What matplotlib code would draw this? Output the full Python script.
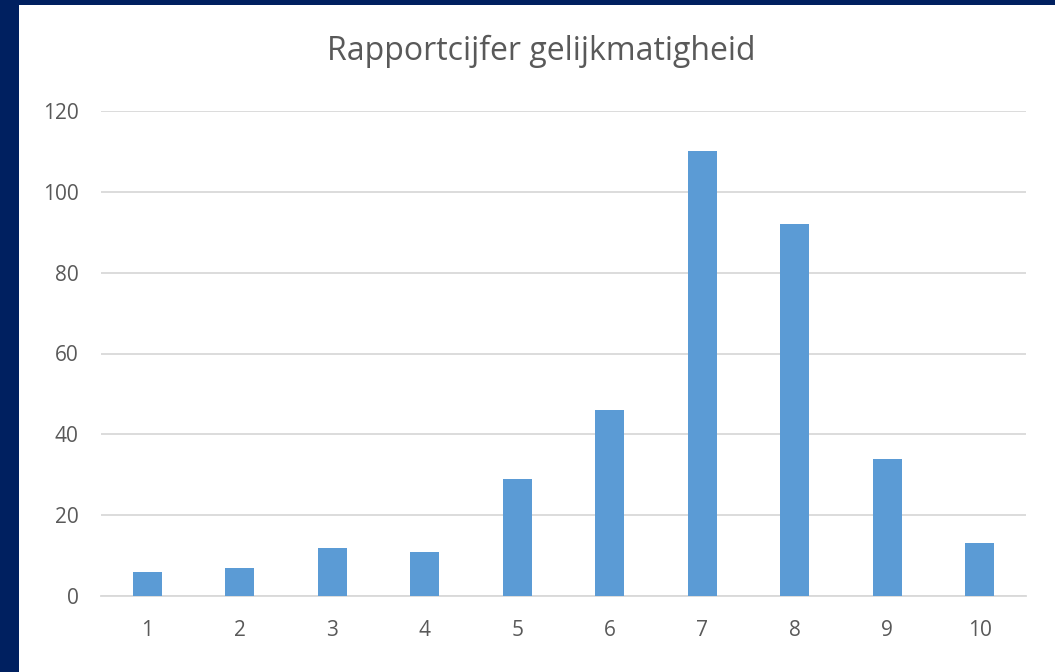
import matplotlib
matplotlib.use("Agg")
import matplotlib.pyplot as plt
from matplotlib.patches import Rectangle

# rapportcijfers en aantallen
cijfers = ['1', '2', '3', '4', '5', '6', '7', '8', '9', '10']
aantallen = [6, 7, 12, 11, 29, 46, 110, 92, 34, 13]
y_ticks = [0, 20, 40, 60, 80, 100, 120]

plt.rcParams['font.family'] = ['Open Sans', 'DejaVu Sans']

fig = plt.figure(figsize=(10.55, 6.72), dpi=100, facecolor='#002060')
# witte achtergrond binnen de blauwe rand
fig.patches.append(Rectangle((19 / 1055, 0), 1 - 19 / 1055, 1 - 5 / 672,
                             transform=fig.transFigure, facecolor='white',
                             edgecolor='none', zorder=-5))

ax = fig.add_axes([101 / 1055, 1 - 596 / 672, 925 / 1055, 485 / 672])
ax.set_zorder(2)
ax.set_facecolor('white')

x = range(len(cijfers))
ax.bar(x, aantallen, width=0.313, color='#5B9BD5', zorder=3)

ax.set_xlim(-0.5, len(cijfers) - 0.5)
ax.set_ylim(0, 120)
ax.set_xticks(list(x))
ax.set_xticklabels(cijfers)
ax.set_yticks(y_ticks)
ax.yaxis.grid(True, color='#D9D9D9', linewidth=1.3, zorder=0)
ax.set_axisbelow(True)
ax.tick_params(axis='both', length=0, labelsize=15, colors='#595959')
ax.tick_params(axis='x', pad=17)
ax.tick_params(axis='y', pad=16)
for s in ['top', 'right', 'left']:
    ax.spines[s].set_visible(False)
ax.spines['bottom'].set_color('#D9D9D9')
ax.spines['bottom'].set_linewidth(1.3)

fig.text(541 / 1055, 1 - 60 / 672, 'Rapportcijfer gelijkmatigheid',
         ha='center', va='baseline', fontsize=23, color='#595959')

fig.savefig('out.png', dpi=100, facecolor=fig.get_facecolor())
